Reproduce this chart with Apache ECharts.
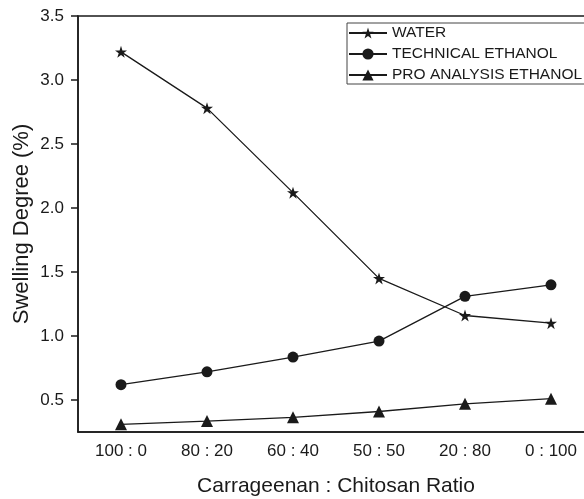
<!DOCTYPE html>
<html>
<head>
<meta charset="utf-8">
<script src="https://cdn.jsdelivr.net/npm/echarts@6/dist/echarts.min.js"></script>
<style>
  html, body { margin: 0; padding: 0; background: #fff; }
  #chart { width: 584px; height: 499px; }
</style>
</head>
<body>
<div id="chart"></div>
<script>
  // data
  var ratios = ['100 : 0', '80 : 20', '60 : 40', '50 : 50', '20 : 80', '0 : 100'];
  var water = [3.22, 2.78, 2.12, 1.45, 1.16, 1.10];
  var technicalEthanol = [0.62, 0.72, 0.835, 0.96, 1.31, 1.40];
  var proAnalysisEthanol = [0.31, 0.335, 0.365, 0.41, 0.47, 0.51];
  var yTicks = [0.5, 1.0, 1.5, 2.0, 2.5, 3.0, 3.5];

  var ink = '#1a1a1a';
  var font = 'Liberation Sans, Arial, sans-serif';

  function makeSeries(name, data, symbol, size) {
    return {
      name: name,
      type: 'line',
      data: data,
      symbol: symbol,
      symbolSize: size,
      lineStyle: { color: ink, width: 1.3 },
      itemStyle: { color: ink },
      emphasis: { disabled: true }
    };
  }

  var chart = echarts.init(document.getElementById('chart'));
  chart.setOption({
    animation: false,
    grid: {
      left: 78, width: 516, top: 16, height: 416,
      outerBoundsMode: 'none',
      show: true, borderColor: ink, borderWidth: 1.5
    },
    legend: {
      orient: 'vertical',
      left: 347, top: 23,
      itemWidth: 38, itemHeight: 14, itemGap: 5,
      padding: [2, 40, 1, 1],
      borderColor: '#444', borderWidth: 1,
      textStyle: { fontFamily: font, fontSize: 15.5, color: ink },
      data: ['WATER', 'TECHNICAL ETHANOL', 'PRO ANALYSIS ETHANOL']
    },
    xAxis: {
      type: 'category',
      data: ratios,
      boundaryGap: true,
      name: 'Carrageenan : Chitosan Ratio',
      nameLocation: 'middle',
      nameGap: 44,
      nameMoveOverlap: false,
      nameTextStyle: { fontFamily: font, fontSize: 21, color: ink },
      axisLine: { lineStyle: { color: ink, width: 1.5 } },
      axisTick: { alignWithLabel: true, length: 7, lineStyle: { color: ink, width: 1.5 } },
      axisLabel: { fontFamily: font, fontSize: 17, color: ink, margin: 11 },
      splitLine: { show: false }
    },
    yAxis: {
      type: 'value',
      min: 0.25,
      max: 3.5,
      name: 'Swelling Degree (%)',
      nameLocation: 'middle',
      nameGap: 45,
      nameMoveOverlap: false,
      nameTextStyle: { fontFamily: font, fontSize: 22, color: ink },
      axisLine: { show: true, lineStyle: { color: ink, width: 1.5 } },
      axisTick: { show: true, length: 7, customValues: yTicks, lineStyle: { color: ink, width: 1.5 } },
      axisLabel: {
        fontFamily: font, fontSize: 17, color: ink, margin: 14,
        customValues: yTicks,
        formatter: function (v) { return v.toFixed(1); }
      },
      splitLine: { show: false }
    },
    series: [
      makeSeries('WATER', water, 'path://M50,0 L61.2,34.5 L97.6,34.5 L68.2,55.9 L79.4,90.5 L50,69.1 L20.6,90.5 L31.8,55.9 L2.4,34.5 L38.8,34.5 Z', 12),
      makeSeries('TECHNICAL ETHANOL', technicalEthanol, 'circle', 11),
      makeSeries('PRO ANALYSIS ETHANOL', proAnalysisEthanol, 'triangle', 12)
    ]
  });
</script>
</body>
</html>
